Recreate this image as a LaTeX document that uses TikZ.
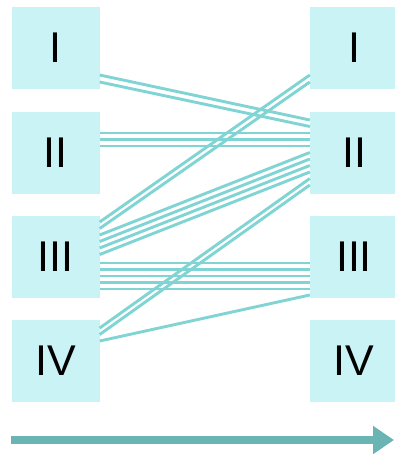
\documentclass[tikz,border=0pt]{standalone}
\usepackage{fontspec}
\setmainfont{Liberation Sans}
\usetikzlibrary{calc,arrows.meta}

\definecolor{boxfill}{HTML}{C9F3F5}
\definecolor{flowcol}{HTML}{80D4D4}
\definecolor{arrowcol}{HTML}{6BB4B4}

\tikzset{
  numbox/.style={fill=boxfill, minimum width=88pt, minimum height=82pt, inner sep=0pt,
    font=\fontsize{43}{43}\selectfont},
  flow/.style={draw=flowcol, line width=2.9pt},
  timeline/.style={draw=arrowcol, line width=8.5pt, -{Triangle[length=21pt,width=27pt]}}
}

\begin{document}
\begin{tikzpicture}[x=1pt, y=-1pt]

        \useasboundingbox (0,0) rectangle (394,454);

        % Left column
        \node[numbox] (L1) at (55.5,48) {I};
        \node[numbox] (L2) at (55.5,153) {II};
        \node[numbox] (L3) at (55.5,257) {III};
        \node[numbox] (L4) at (55.5,361) {IV};

        % Right column
        \node[numbox] (R1) at (354,48) {I};
        \node[numbox] (R2) at (354,153) {II};
        \node[numbox] (R3) at (354,257) {III};
        \node[numbox] (R4) at (354,361) {IV};

        % Bundles of lines between the columns
        \foreach \a/\b in {27/-33, 34/-26.5}
          \draw[flow] ($(L1.east)+(0,\a)$) -- ($(R2.west)+(0,\b)$);
        \foreach \a in {-20, -13.5, -7}
          \draw[flow] ($(L2.east)+(0,\a)$) -- ($(R2.west)+(0,\a)$);
        \foreach \a/\b in {-35/27, -28.5/34}
          \draw[flow] ($(L3.east)+(0,\a)$) -- ($(R1.west)+(0,\b)$);
        \foreach \a/\b in {-22/-0.5, -15.5/6, -9/12.5, -2.5/19}
          \draw[flow] ($(L3.east)+(0,\a)$) -- ($(R2.west)+(0,\b)$);
        \foreach \a in {6, 12.5, 19, 25.5, 32}
          \draw[flow] ($(L3.east)+(0,\a)$) -- ($(R3.west)+(0,\a)$);
        \foreach \a/\b in {-33/25.5, -26.5/32}
          \draw[flow] ($(L4.east)+(0,\a)$) -- ($(R2.west)+(0,\b)$);
        \draw[flow] ($(L4.east)+(0,-20)$) -- ($(R3.west)+(0,38)$);

        % Time arrow
        \coordinate (t0) at (11,440);
        \coordinate (t1) at (394,440);
        \draw[timeline] (t0) -- (t1);

\end{tikzpicture}
\end{document}
